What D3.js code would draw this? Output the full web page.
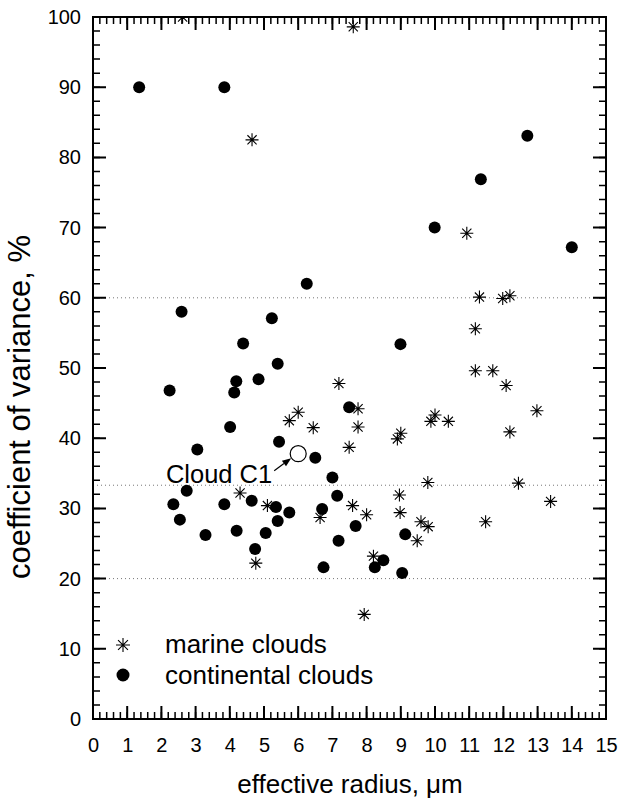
<!DOCTYPE html>
<html>
<head>
<meta charset="utf-8">
<script src="https://cdn.jsdelivr.net/npm/d3@7"></script>
<style>
  body { margin: 0; background: #fff; }
  text { font-family: "Liberation Sans", Arial, Helvetica, sans-serif; fill: #000; }
</style>
</head>
<body>
<script>
// continental clouds (filled circles): effective radius (um), coefficient of variance (%)
const continentalX = [1.35, 3.84, 12.70, 11.34, 9.99, 14.0, 6.25, 2.59, 5.23, 4.39, 5.40, 8.99, 4.19, 4.84, 4.13,
  2.24, 7.49, 4.01, 5.44, 3.05, 6.50, 7.0, 2.74, 2.35, 2.54, 3.29, 3.84, 4.20, 4.64, 4.74, 5.05, 5.35, 5.40, 5.74,
  6.70, 7.14, 7.18, 6.74, 7.68, 9.13, 8.24, 8.49, 9.04];
const continentalY = [90, 90, 83.1, 76.9, 70.0, 67.2, 62.0, 58.0, 57.1, 53.5, 50.6, 53.4, 48.1, 48.4, 46.5,
  46.8, 44.4, 41.6, 39.5, 38.4, 37.2, 34.4, 32.5, 30.6, 28.4, 26.2, 30.6, 26.8, 31.1, 24.2, 26.5, 30.2, 28.2, 29.4,
  29.9, 31.8, 25.4, 21.6, 27.5, 26.3, 21.6, 22.6, 20.8];

// marine clouds (asterisks)
const marineX = [2.62, 7.61, 4.65, 10.93, 11.30, 11.98, 12.19, 11.18, 11.18, 11.69, 12.08, 12.98, 12.19, 7.19,
  6.0, 5.74, 6.44, 7.49, 7.75, 7.75, 9.88, 10.0, 10.39, 8.90, 9.0, 9.79, 12.44, 4.30, 5.10, 6.64, 7.59, 4.76,
  7.93, 8.0, 8.96, 8.98, 9.59, 9.80, 9.48, 8.20, 11.48, 13.38];
const marineY = [100, 98.6, 82.5, 69.2, 60.1, 59.9, 60.3, 55.6, 49.6, 49.6, 47.5, 43.9, 40.9, 47.8,
  43.7, 42.5, 41.5, 38.7, 44.2, 41.6, 42.4, 43.3, 42.4, 39.9, 40.7, 33.7, 33.6, 32.2, 30.4, 28.7, 30.4, 22.2,
  14.9, 29.1, 31.9, 29.4, 28.1, 27.4, 25.4, 23.2, 28.1, 31.0];

// cloud C1
const cloudC1 = [6.0, 37.8];

// reference lines and ticks
const refLines = [20, 33.3, 60];
const xTicks = d3.range(0, 16, 1);
const yTicks = d3.range(0, 101, 10);
const xMinor = d3.range(0, 76).map(i => i * 0.2);
const yMinor = d3.range(0, 51).map(i => i * 2);

const W = 619, H = 802;
const margin = {top: 17, right: 13, bottom: 83, left: 93};
const innerW = W - margin.left - margin.right;
const innerH = H - margin.top - margin.bottom;

const svg = d3.select("body").append("svg")
    .attr("width", W)
    .attr("height", H);

const defs = svg.append("defs");
defs.append("clipPath").attr("id", "clip")
  .append("rect").attr("width", innerW).attr("height", innerH);

const g = svg.append("g")
    .attr("transform", "translate(" + margin.left + "," + margin.top + ")");

const x = d3.scaleLinear().domain([0, 15]).range([0, innerW]);
const y = d3.scaleLinear().domain([0, 100]).range([innerH, 0]);

// dotted reference lines
g.selectAll(".ref")
  .data(refLines)
  .enter().append("line")
    .attr("x1", 0).attr("x2", innerW)
    .attr("y1", d => y(d)).attr("y2", d => y(d))
    .attr("stroke", "#777")
    .attr("stroke-width", 1)
    .attr("stroke-dasharray", "1,3");

// tick labels via d3 axes
const xAxis = g.append("g")
    .attr("transform", "translate(0," + innerH + ")")
    .call(d3.axisBottom(x).tickValues(xTicks).tickSize(0).tickPadding(19).tickFormat(d3.format("d")));
xAxis.select(".domain").remove();
xAxis.selectAll("text").style("font-size", "20px").attr("font-family", null);

const yAxis = g.append("g")
    .call(d3.axisLeft(y).tickValues(yTicks).tickSize(0).tickPadding(12).tickFormat(d3.format("d")));
yAxis.select(".domain").remove();
yAxis.selectAll("text").style("font-size", "20px").attr("font-family", null);

// frame and inward ticks, built as one path
function addTicks(p, vals, side, len) {
  vals.forEach(d => {
    if (side === "bottom") { p.moveTo(x(d), innerH); p.lineTo(x(d), innerH - len); }
    if (side === "top") { p.moveTo(x(d), 0); p.lineTo(x(d), len); }
    if (side === "left") { p.moveTo(0, y(d)); p.lineTo(len, y(d)); }
    if (side === "right") { p.moveTo(innerW, y(d)); p.lineTo(innerW - len, y(d)); }
  });
}
const major = d3.path();
major.rect(0, 0, innerW, innerH);
addTicks(major, xTicks, "bottom", 13);
addTicks(major, xTicks, "top", 13);
addTicks(major, yTicks, "left", 13);
addTicks(major, yTicks, "right", 13);
g.append("path")
    .attr("d", major.toString())
    .attr("fill", "none")
    .attr("stroke", "#000")
    .attr("stroke-width", 2);

const minor = d3.path();
addTicks(minor, xMinor, "bottom", 7);
addTicks(minor, xMinor, "top", 7);
addTicks(minor, yMinor, "left", 7);
addTicks(minor, yMinor, "right", 7);
g.append("path")
    .attr("d", minor.toString())
    .attr("fill", "none")
    .attr("stroke", "#000")
    .attr("stroke-width", 1.5);

const plot = g.append("g").attr("clip-path", "url(#clip)");

const continental = continentalX.map((v, i) => ({x: v, y: continentalY[i]}));
const marine = marineX.map((v, i) => ({x: v, y: marineY[i]}));

const starPath = (r) => {
  const d = r * Math.SQRT1_2;
  return "M0," + (-r) + "V" + r + "M" + (-r) + ",0H" + r +
    "M" + (-d) + "," + (-d) + "L" + d + "," + d + "M" + (-d) + "," + d + "L" + d + "," + (-d);
};

plot.selectAll(".cont")
  .data(continental)
  .enter().append("circle")
    .attr("cx", d => x(d.x))
    .attr("cy", d => y(d.y))
    .attr("r", 6)
    .attr("fill", "#000");

plot.selectAll(".mar")
  .data(marine)
  .enter().append("path")
    .attr("transform", d => "translate(" + x(d.x) + "," + y(d.y) + ")")
    .attr("d", starPath(6.5))
    .attr("stroke", "#000")
    .attr("stroke-width", 1.1)
    .attr("fill", "none");

// Cloud C1
const cx = x(cloudC1[0]), cy = y(cloudC1[1]);
plot.append("circle")
    .attr("cx", cx).attr("cy", cy).attr("r", 8)
    .attr("fill", "#fff").attr("stroke", "#000").attr("stroke-width", 1.2);
const ax0 = cx - 24, ay0 = cy + 17, ax1 = cx - 7, ay1 = cy + 4.5;
const ang = Math.atan2(ay1 - ay0, ax1 - ax0);
const hl = 9, hw = 3.5;
const bx = ax1 - hl * Math.cos(ang), by = ay1 - hl * Math.sin(ang);
plot.append("path")
    .attr("d", "M" + ax0 + "," + ay0 + "L" + bx + "," + by)
    .attr("stroke", "#000").attr("stroke-width", 1.2).attr("fill", "none");
plot.append("path")
    .attr("d", "M" + ax1 + "," + ay1 +
      "L" + (bx - hw * Math.sin(ang)) + "," + (by + hw * Math.cos(ang)) +
      "L" + (bx + hw * Math.sin(ang)) + "," + (by - hw * Math.cos(ang)) + "Z")
    .attr("fill", "#000");
plot.append("text")
    .attr("x", cx - 26).attr("y", cy + 29)
    .attr("text-anchor", "end")
    .style("font-size", "25.5px")
    .text("Cloud C1");

// legend
const leg = g.append("g").attr("transform", "translate(" + (123 - margin.left) + "," + (645 - margin.top) + ")");
leg.append("path").attr("d", starPath(7)).attr("stroke", "#000").attr("stroke-width", 1.1);
leg.append("text").attr("x", 42).attr("y", 8).style("font-size", "26px").text("marine clouds");
leg.append("circle").attr("cx", 0).attr("cy", 30).attr("r", 6.5).attr("fill", "#000");
leg.append("text").attr("x", 42).attr("y", 39).style("font-size", "26px").text("continental clouds");

// axis titles
svg.append("text")
    .attr("x", 350)
    .attr("y", 793)
    .attr("text-anchor", "middle")
    .style("font-size", "26px")
    .text("effective radius, \u03bcm");

svg.append("text")
    .attr("transform", "translate(30," + 407 + ") rotate(-90)")
    .attr("text-anchor", "middle")
    .style("font-size", "31px")
    .text("coefficient of variance, %");
</script>
</body>
</html>
